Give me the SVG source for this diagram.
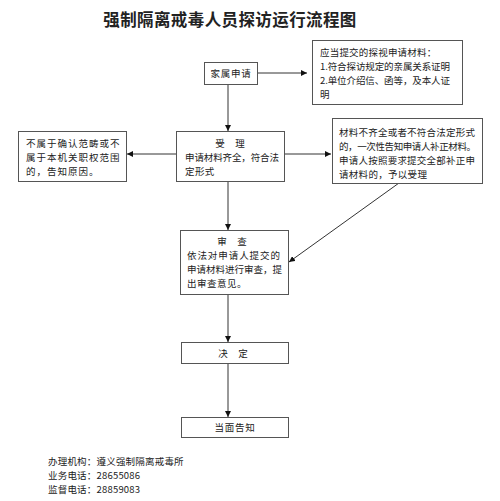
<svg xmlns="http://www.w3.org/2000/svg" width="500" height="501" viewBox="0 0 500 501">
<style>
.box{fill:#fff;stroke:#555;stroke-width:1}
.t{font-family:"Noto Sans CJK SC","Noto Sans",sans-serif;font-size:9.5px;fill:#222}
.ln{stroke:#333;stroke-width:1;fill:none}
</style>
<defs>
<marker id="ah" viewBox="0 0 10 10" refX="10" refY="5" markerWidth="6" markerHeight="6" orient="auto" markerUnits="userSpaceOnUse">
<path d="M0,0 L10,5 L0,10 z" fill="#111"/>
</marker>
</defs>
<rect width="500" height="501" fill="#fff"/>
<text x="230" y="26" text-anchor="middle" font-family="'Noto Sans CJK SC',sans-serif" font-size="16.5" font-weight="bold" fill="#222" letter-spacing="0.4">强制隔离戒毒人员探访运行流程图</text>

<g id="connectors">
<line class="ln" x1="258" y1="73" x2="307" y2="73" marker-end="url(#ah)"/>
<line class="ln" x1="228" y1="84" x2="228" y2="131" marker-end="url(#ah)"/>
<line class="ln" x1="176" y1="154" x2="127" y2="154" marker-end="url(#ah)"/>
<line class="ln" x1="285" y1="154" x2="331" y2="154" marker-end="url(#ah)"/>
<line class="ln" x1="399" y1="183" x2="289" y2="262" marker-end="url(#ah)"/>
<line class="ln" x1="228" y1="182" x2="228" y2="230" marker-end="url(#ah)"/>
<line class="ln" x1="228" y1="295" x2="228" y2="342" marker-end="url(#ah)"/>
<line class="ln" x1="228" y1="363" x2="228" y2="417" marker-end="url(#ah)"/>
</g>

<g id="apply">
<rect class="box" x="204.5" y="62.5" width="53" height="22"/>
<text class="t" x="231" y="77" text-anchor="middle" letter-spacing="0.8">家属申请</text>
</g>

<g id="materials">
<rect class="box" x="312.5" y="40.5" width="150" height="64"/>
<text class="t" x="320" y="56" letter-spacing="0.2">应当提交的探视申请材料：</text>
<text class="t" x="320" y="70" textLength="130" lengthAdjust="spacing">1.符合探访规定的亲属关系证明</text>
<text class="t" x="320" y="84" textLength="130" lengthAdjust="spacing">2.单位介绍信、函等，及本人证</text>
<text class="t" x="320" y="98">明</text>
</g>

<g id="accept">
<rect class="box" x="176.5" y="131.5" width="108" height="50"/>
<text class="t" x="230" y="147" text-anchor="middle" xml:space="preserve">受     理</text>
<text class="t" x="185" y="161" textLength="94" lengthAdjust="spacing">申请材料齐全，符合法</text>
<text class="t" x="185" y="175" letter-spacing="0.4">定形式</text>
</g>

<g id="reject">
<rect class="box" x="18.5" y="131.5" width="108" height="50"/>
<text class="t" x="26" y="147" letter-spacing="1">不属于确认范畴或不</text>
<text class="t" x="26" y="161" letter-spacing="1">属于本机关职权范围</text>
<text class="t" x="26" y="175" letter-spacing="1">的，告知原因。</text>
</g>

<g id="incomplete">
<rect class="box" x="332.5" y="118.5" width="150" height="65"/>
<text class="t" x="339" y="136" textLength="136" lengthAdjust="spacing">材料不齐全或者不符合法定形式</text>
<text class="t" x="339" y="150" textLength="137" lengthAdjust="spacing">的，一次性告知申请人补正材料。</text>
<text class="t" x="339" y="164" textLength="136" lengthAdjust="spacing">申请人按照要求提交全部补正申</text>
<text class="t" x="339" y="178" letter-spacing="0.3">请材料的，予以受理</text>
</g>

<g id="review">
<rect class="box" x="180.5" y="230.5" width="108" height="64"/>
<text class="t" x="232" y="245" text-anchor="middle" xml:space="preserve">审     查</text>
<text class="t" x="187" y="259" textLength="93" lengthAdjust="spacing">依法对申请人提交的</text>
<text class="t" x="187" y="273" textLength="95" lengthAdjust="spacing">申请材料进行审查，提</text>
<text class="t" x="187" y="287" letter-spacing="0.5">出审查意见。</text>
</g>

<g id="decide">
<rect class="box" x="181.5" y="342.5" width="107" height="21"/>
<text class="t" x="233" y="357" text-anchor="middle" xml:space="preserve">决     定</text>
</g>

<g id="notify">
<rect class="box" x="181.5" y="417.5" width="107" height="20"/>
<text class="t" x="235" y="431" text-anchor="middle" letter-spacing="0.8">当面告知</text>
</g>

<g id="footer">
<text class="t" x="48" y="465" letter-spacing="0.2">办理机构：遵义强制隔离戒毒所</text>
<text class="t" x="48" y="479" letter-spacing="0.2">业务电话：28655086</text>
<text class="t" x="48" y="493" letter-spacing="0.2">监督电话：28859083</text>
</g>
</svg>
